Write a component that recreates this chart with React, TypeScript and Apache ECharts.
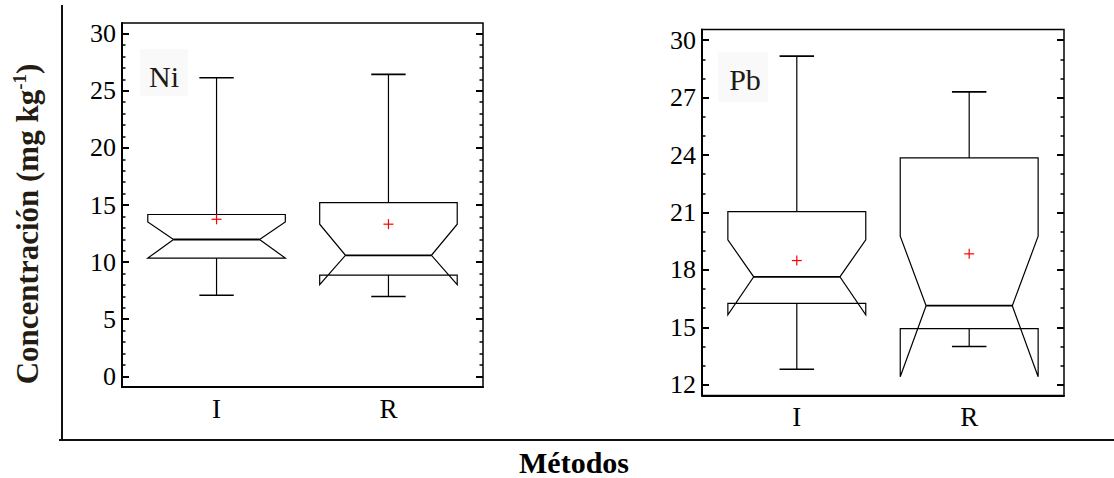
import React, { useEffect, useRef } from "react";
import * as echarts from "echarts";

// ---------- data ----------
const categories = ["I", "R"];

// Ni (mg kg-1)
const niWhiskerLow = [7.1, 6.98];
const niQ1 = [10.35, 8.86];
const niNotchLow = [10.35, 8.03];
const niMedian = [11.98, 10.59];
const niNotchHigh = [13.52, 13.32];
const niQ3 = [14.17, 15.21];
const niWhiskerHigh = [26.15, 26.44];
const niMean = [13.75, 13.32];

// Pb (mg kg-1)
const pbWhiskerLow = [12.81, 14.0];
const pbQ1 = [16.25, 14.93];
const pbNotchLow = [15.66, 12.42];
const pbMedian = [17.64, 16.13];
const pbNotchHigh = [19.57, 19.76];
const pbQ3 = [21.05, 23.85];
const pbWhiskerHigh = [29.17, 27.3];
const pbMean = [18.49, 18.84];

// axes
const niRange = [-0.94, 30.94];
const pbRange = [11.44, 30.56];
const niTickRange = [0, 30];
const pbTickRange = [12, 30];
const niTickStep = 5;
const pbTickStep = 3;
const niMinorSplit = 5;
const pbMinorSplit = 3;
const xRange = [0.45, 2.55];
const catPositions = [1, 2];

const panelLabels = ["Ni", "Pb"];
const yTitle = "Concentración (mg kg";
const xTitle = "Métodos";

// ---------- helpers ----------
function rows(wl: number[], q1: number[], nl: number[], md: number[], nh: number[], q3: number[], wh: number[], mn: number[]) {
  return categories.map((_, i) => [catPositions[i], wl[i], q1[i], nl[i], md[i], nh[i], q3[i], wh[i], mn[i]]);
}

const BOX_HALF = 0.4;
const NOTCH_HALF = 0.25;
const CAP_HALF = 0.1;

function renderBox(params: any, api: any) {
  const x = api.value(0);
  const wl = api.value(1);
  const q1 = api.value(2);
  const nl = api.value(3);
  const md = api.value(4);
  const nh = api.value(5);
  const q3 = api.value(6);
  const wh = api.value(7);
  const mn = api.value(8);
  const p = (dx: number, v: number) => api.coord([x + dx, v]);
  const ls = { stroke: "#000", lineWidth: 1.2, fill: "none" };
  const m = p(0, mn);
  const r = 5;
  return {
    type: "group",
    children: [
      { type: "polyline", shape: { points: [p(0, q3), p(0, wh)] }, style: ls },
      { type: "polyline", shape: { points: [p(-CAP_HALF, wh), p(CAP_HALF, wh)] }, style: { ...ls, lineWidth: 1.6 } },
      { type: "polyline", shape: { points: [p(0, q1), p(0, wl)] }, style: ls },
      { type: "polyline", shape: { points: [p(-CAP_HALF, wl), p(CAP_HALF, wl)] }, style: { ...ls, lineWidth: 1.6 } },
      {
        type: "polygon",
        shape: {
          points: [
            p(-BOX_HALF, q3),
            p(-BOX_HALF, nh),
            p(-NOTCH_HALF, md),
            p(-BOX_HALF, nl),
            p(-BOX_HALF, q1),
            p(BOX_HALF, q1),
            p(BOX_HALF, nl),
            p(NOTCH_HALF, md),
            p(BOX_HALF, nh),
            p(BOX_HALF, q3),
          ],
        },
        style: ls,
      },
      { type: "polyline", shape: { points: [p(-NOTCH_HALF, md), p(NOTCH_HALF, md)] }, style: { ...ls, lineWidth: 1.8 } },
      { type: "line", shape: { x1: m[0] - r, y1: m[1], x2: m[0] + r, y2: m[1] }, style: { stroke: "#ff0000", lineWidth: 1.2 } },
      { type: "line", shape: { x1: m[0], y1: m[1] - r, x2: m[0], y2: m[1] + r }, style: { stroke: "#ff0000", lineWidth: 1.2 } },
    ],
  };
}

const SERIF = "'Liberation Serif', 'Times New Roman', serif";

function mainYAxis(gridIndex: number, range: number[]) {
  return {
    gridIndex,
    type: "value",
    position: "left",
    min: range[0],
    max: range[1],
    splitLine: { show: false },
    axisLine: { show: true, onZero: false, lineStyle: { color: "#000", width: 2 } },
    axisTick: { show: false },
    axisLabel: { show: false },
  };
}

function tickYAxis(gridIndex: number, range: number[], step: number, minorSplit: number, position: string, labels: boolean) {
  return {
    gridIndex,
    type: "value",
    position,
    min: range[0],
    max: range[1],
    interval: step,
    splitLine: { show: false },
    axisLine: { show: false, onZero: false },
    axisTick: { show: true, inside: true, length: 7, lineStyle: { color: "#000", width: 2 } },
    minorTick: { show: true, splitNumber: minorSplit, length: 3.5, lineStyle: { color: "#000", width: 1.5 } },
    minorSplitLine: { show: false },
    axisLabel: { show: labels, fontFamily: SERIF, fontSize: 26, color: "#000", margin: 6 },
  };
}

function mainXAxis(gridIndex: number) {
  return {
    gridIndex,
    type: "value",
    position: "bottom",
    min: xRange[0],
    max: xRange[1],
    splitLine: { show: false },
    axisLine: { show: true, onZero: false, lineStyle: { color: "#000", width: 2 } },
    axisTick: { show: false },
    axisLabel: {
      show: true,
      customValues: catPositions,
      formatter: (v: number) => categories[Math.round(v) - 1],
      fontFamily: SERIF,
      fontSize: 27,
      color: "#000",
      margin: 8,
    },
  };
}

function hiddenXAxis(gridIndex: number) {
  return { gridIndex, type: "value", show: false, min: 0, max: 1 };
}

export default function App() {
  const ref = useRef<HTMLDivElement>(null);
  useEffect(() => {
    if (!ref.current) return;
    const chart = echarts.init(ref.current, null, { renderer: "svg" });
    // tick grids sit exactly on the tick span of the framed grids
    const niTop = 23, niH = 364, pbTop = 29.5, pbH = 366;
    const niPx = niH / (niRange[1] - niRange[0]);
    const pbPx = pbH / (pbRange[1] - pbRange[0]);
    const option: any = {
      animation: false,
      backgroundColor: "#fff",
      grid: [
        { left: 122, top: niTop, width: 361, height: niH, show: true, borderColor: "#000", borderWidth: 1.5, outerBoundsMode: "none", containLabel: false },
        { left: 702, top: pbTop, width: 362, height: pbH, show: true, borderColor: "#000", borderWidth: 1.5, outerBoundsMode: "none", containLabel: false },
        {
          left: 122,
          top: niTop + (niRange[1] - niTickRange[1]) * niPx,
          width: 361,
          height: (niTickRange[1] - niTickRange[0]) * niPx,
          show: false,
          outerBoundsMode: "none",
          containLabel: false,
        },
        {
          left: 702,
          top: pbTop + (pbRange[1] - pbTickRange[1]) * pbPx,
          width: 362,
          height: (pbTickRange[1] - pbTickRange[0]) * pbPx,
          show: false,
          outerBoundsMode: "none",
          containLabel: false,
        },
      ],
      xAxis: [mainXAxis(0), mainXAxis(1), hiddenXAxis(2), hiddenXAxis(3)],
      yAxis: [
        mainYAxis(0, niRange),
        mainYAxis(1, pbRange),
        tickYAxis(2, niTickRange, niTickStep, niMinorSplit, "left", true),
        tickYAxis(2, niTickRange, niTickStep, niMinorSplit, "right", false),
        tickYAxis(3, pbTickRange, pbTickStep, pbMinorSplit, "left", true),
        tickYAxis(3, pbTickRange, pbTickStep, pbMinorSplit, "right", false),
      ],
      series: [
        {
          type: "custom",
          name: "Ni",
          xAxisIndex: 0,
          yAxisIndex: 0,
          renderItem: renderBox,
          encode: { x: 0, y: [1, 2, 3, 4, 5, 6, 7, 8] },
          data: rows(niWhiskerLow, niQ1, niNotchLow, niMedian, niNotchHigh, niQ3, niWhiskerHigh, niMean),
          clip: false,
        },
        {
          type: "custom",
          name: "Pb",
          xAxisIndex: 1,
          yAxisIndex: 1,
          renderItem: renderBox,
          encode: { x: 0, y: [1, 2, 3, 4, 5, 6, 7, 8] },
          data: rows(pbWhiskerLow, pbQ1, pbNotchLow, pbMedian, pbNotchHigh, pbQ3, pbWhiskerHigh, pbMean),
          clip: false,
        },
      ],
      graphic: [
        { type: "line", shape: { x1: 62, y1: 5, x2: 62, y2: 441 }, style: { stroke: "#111", lineWidth: 2 } },
        { type: "line", shape: { x1: 59, y1: 440, x2: 1114, y2: 440 }, style: { stroke: "#111", lineWidth: 2 } },
        { type: "rect", shape: { x: 140, y: 49, width: 48, height: 47 }, style: { fill: "#f9f9f9" } },
        { type: "rect", shape: { x: 718, y: 52, width: 50, height: 50 }, style: { fill: "#f9f9f9" } },
        {
          type: "text",
          x: 164,
          y: 76,
          style: { text: panelLabels[0], font: "30px 'Liberation Serif', serif", fill: "#1f1a14", align: "center", verticalAlign: "middle" },
        },
        {
          type: "text",
          x: 745,
          y: 79,
          style: { text: panelLabels[1], font: "30px 'Liberation Serif', serif", fill: "#1f1a14", align: "center", verticalAlign: "middle" },
        },
        {
          type: "text",
          x: 27,
          y: 224,
          rotation: Math.PI / 2,
          style: {
            text: "{a|" + yTitle + "}{s|-1}{a|)}",
            align: "center",
            verticalAlign: "middle",
            rich: {
              a: { fontFamily: SERIF, fontSize: 31, fontWeight: "bold", fill: "#241c12", lineHeight: 34 },
              s: { fontFamily: SERIF, fontSize: 19, fontWeight: "bold", fill: "#241c12", lineHeight: 20, verticalAlign: "top" },
            },
          },
        },
        {
          type: "text",
          x: 574,
          y: 462,
          style: { text: xTitle, font: "bold 30px 'Liberation Serif', serif", fill: "#000", align: "center", verticalAlign: "middle" },
        },
      ],
    };
    chart.setOption(option);
    return () => chart.dispose();
  }, []);
  return <div ref={ref} style={{ position: "absolute", left: 0, top: 0, width: 1114, height: 478 }} />;
}
